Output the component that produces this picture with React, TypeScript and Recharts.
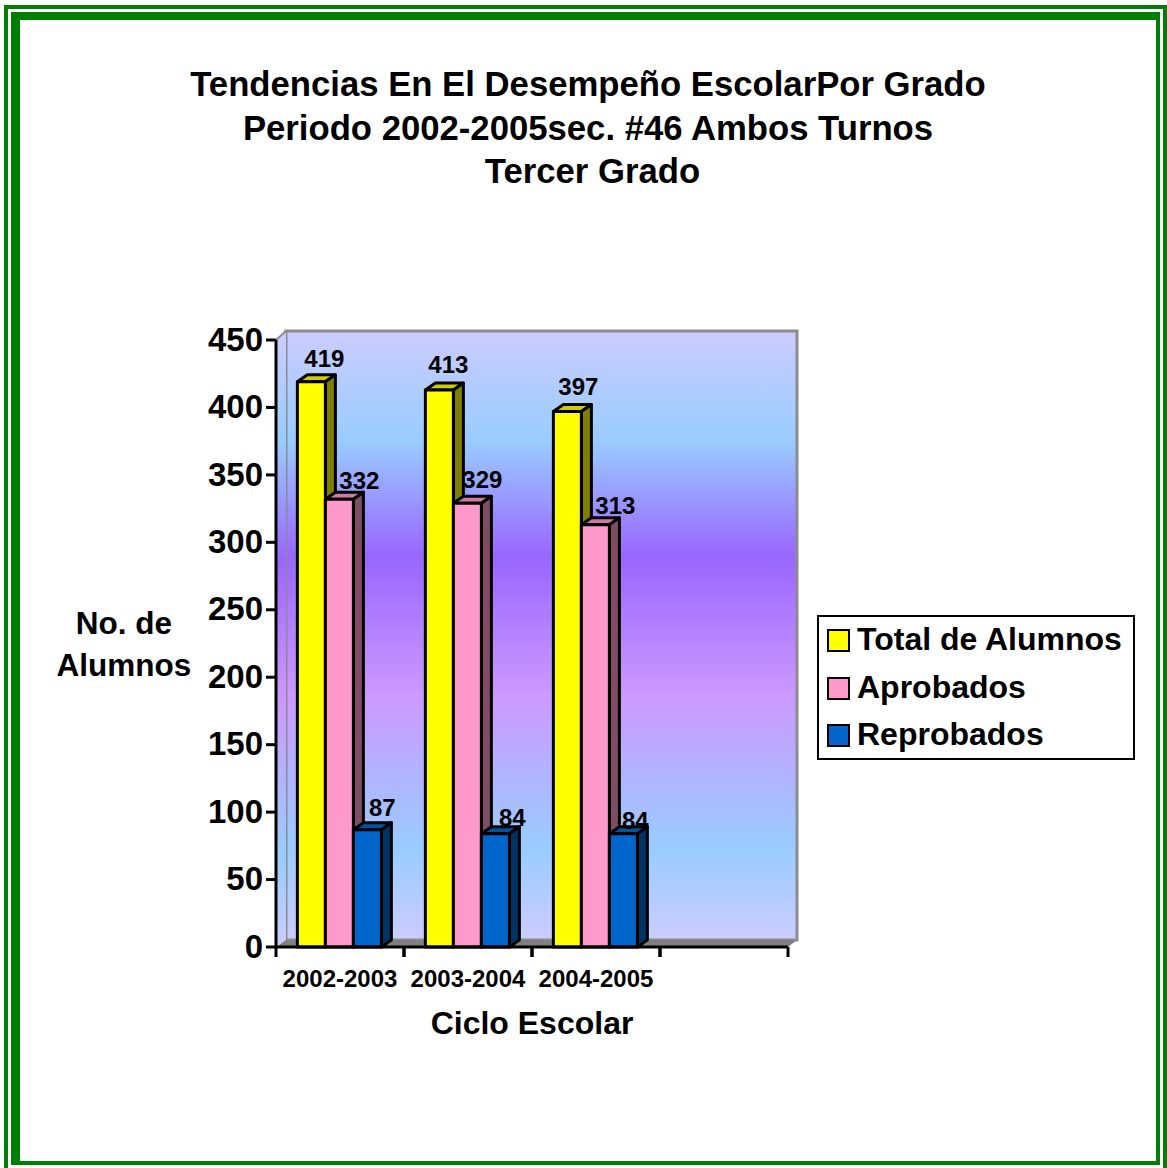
import { BarChart, Bar, XAxis, YAxis, Legend, LabelList, ReferenceArea } from "recharts";

const categories = ["2002-2003", "2003-2004", "2004-2005", ""];
const totalAlumnos = [419, 413, 397, null];
const aprobados = [332, 329, 313, null];
const reprobados = [87, 84, 84, null];
const yTicks = [0, 50, 100, 150, 200, 250, 300, 350, 400, 450];
const titleLines = ["Tendencias En El Desempeño EscolarPor Grado", "Periodo 2002-2005sec. #46 Ambos Turnos", "Tercer Grado"];

const data = categories.map((name, i) => ({
  name,
  total: totalAlumnos[i],
  aprobados: aprobados[i],
  reprobados: reprobados[i],
}));

const FONT = "'Liberation Sans', Arial, sans-serif";
const DEPTH_X = 10;
const DEPTH_Y = 7;

// label offsets from the middle of each bar's top edge, the source places them unevenly
const nudgeTotal = [[13, -15], [9, -17], [11, -16]];
const nudgeAprobados = [[20, -10], [15, -15], [20, -11]];
const nudgeReprobados = [[15, -14], [17, -8], [12, -5]];

function Bar3D(props: any, top: string, side: string) {
  const { x, y, width, height, fill } = props;
  if (!height) return <g />;
  const r = x + width;
  const b = y + height;
  return (
    <g stroke="#000" strokeWidth={3} strokeLinejoin="round">
      <path fill={top} d={`M${x},${y} L${x + DEPTH_X},${y - DEPTH_Y} L${r + DEPTH_X},${y - DEPTH_Y} L${r},${y} Z`} />
      <path fill={side} d={`M${r},${y} L${r + DEPTH_X},${y - DEPTH_Y} L${r + DEPTH_X},${b - DEPTH_Y} L${r},${b} Z`} />
      <rect x={x} y={y} width={width} height={height} fill={fill} />
    </g>
  );
}

function Walls({ x, y, width, height }: any) {
  const r = x + width;
  const b = y + height;
  const wallTop = y - 9;
  return (
    <g>
      <defs>
        <linearGradient id="wall" x1="0" y1="0" x2="0" y2="1">
          <stop offset="0" stopColor="#ccccff" />
          <stop offset="0.18" stopColor="#99ccff" />
          <stop offset="0.37" stopColor="#9966ff" />
          <stop offset="0.6" stopColor="#cc99ff" />
          <stop offset="0.85" stopColor="#99ccff" />
          <stop offset="1" stopColor="#ccccff" />
        </linearGradient>
      </defs>
      <path
        fill="url(#wall)"
        stroke="#8c8c8c"
        strokeWidth={3}
        d={`M${x + DEPTH_X},${wallTop} H${r + 9} V${b - DEPTH_Y} H${x + DEPTH_X} Z`}
      />
      <path fill="url(#wall)" d={`M${x},${y} L${x + DEPTH_X},${wallTop} V${b - DEPTH_Y} L${x},${b} Z`} />
      <path fill="none" stroke="#8c8c8c" strokeWidth={2} d={`M${x},${y} L${x + DEPTH_X},${wallTop}`} />
      <path fill="#808080" d={`M${x},${b} L${x + DEPTH_X},${b - DEPTH_Y} H${r + 9} L${r},${b} Z`} />
    </g>
  );
}

function XTick({ x, y, payload }: any) {
  const half = 64;
  return (
    <g>
      <line x1={x - half} x2={x - half} y1={y - 8} y2={y + 2} stroke="#000" strokeWidth={3} />
      <line x1={x + half} x2={x + half} y1={y - 8} y2={y + 2} stroke="#000" strokeWidth={3} />
      <text x={x} y={y + 32} textAnchor="middle" fontFamily={FONT} fontWeight="bold" fontSize={24} fill="#000">
        {payload.value}
      </text>
    </g>
  );
}

function valueLabel(nudges: number[][]) {
  return ({ x, y, width, value, index }: any) => {
    if (value == null || !nudges[index]) return null;
    return (
      <text
        x={x + width / 2 + nudges[index][0]}
        y={y + nudges[index][1]}
        textAnchor="middle"
        fontFamily={FONT}
        fontWeight="bold"
        fontSize={24}
        fill="#000"
      >
        {value}
      </text>
    );
  };
}

function LegendBox({ payload }: any) {
  return (
    <div style={{ boxSizing: "border-box", width: 318, height: 145, border: "2.5px solid #000", background: "#fff" }}>
      {(payload || []).map((item: any) => (
        <div key={item.value} style={{ display: "flex", alignItems: "center", height: 47.5, paddingLeft: 8 }}>
          <span style={{ boxSizing: "border-box", width: 23, height: 23, border: "2.5px solid #000", background: item.color, marginRight: 7 }} />
          <span style={{ fontFamily: FONT, fontWeight: "bold", fontSize: 32, color: "#000", whiteSpace: "nowrap", position: "relative", top: -1 }}>{item.value}</span>
        </div>
      ))}
    </div>
  );
}

const textBox = { position: "absolute", fontFamily: FONT, fontWeight: "bold", color: "#000", textAlign: "center" } as const;

export default function App() {
  return (
    <div style={{ position: "absolute", left: 0, top: 0, width: 1167, height: 1168, overflow: "hidden", background: "#fff" }}>
      <div style={{ position: "absolute", left: 4, top: 5, width: 1163, height: 1170, border: "4px solid #008000", boxSizing: "border-box" }} />
      <div style={{ position: "absolute", left: 11, top: 12, width: 1149, height: 1153, boxSizing: "border-box", borderStyle: "solid", borderColor: "#008000", borderWidth: "8px 4px 4px 9px" }} />

      <BarChart
        width={1167}
        height={1168}
        data={data}
        barCategoryGap="16.7%"
        barGap={0}
        margin={{ top: 340, right: 379, bottom: 161, left: 176 }}
        style={{ position: "absolute", left: 0, top: 0 }}
      >
        <ReferenceArea y1={0} y2={450} shape={Walls} ifOverflow="visible" />
        <XAxis
          dataKey="name"
          height={60}
          interval={0}
          tickLine={false}
          axisLine={{ stroke: "#000", strokeWidth: 3 }}
          tick={XTick}
          label={{ value: "Ciclo Escolar", position: "insideBottom", offset: -27, fontFamily: FONT, fontWeight: "bold", fontSize: 32, fill: "#000" }}
        />
        <YAxis
          width={100}
          domain={[0, 450]}
          ticks={yTicks}
          tickSize={10}
          tickMargin={3}
          axisLine={{ stroke: "#000", strokeWidth: 3 }}
          tickLine={{ stroke: "#000", strokeWidth: 3 }}
          tick={{ fontFamily: FONT, fontWeight: "bold", fontSize: 33, fill: "#000", dy: -1 }}
        />
        <Legend
          layout="vertical"
          align="center"
          verticalAlign="middle"
          itemSorter={null}
          content={LegendBox}
          wrapperStyle={{ left: 817, top: 615, width: 318, height: 145 }}
        />
        <Bar dataKey="total" name="Total de Alumnos" fill="#ffff00" isAnimationActive={false} shape={(p: any) => Bar3D(p, "#cccc00", "#808000")}>
          <LabelList dataKey="total" content={valueLabel(nudgeTotal)} />
        </Bar>
        <Bar dataKey="aprobados" name="Aprobados" fill="#ff99cc" isAnimationActive={false} shape={(p: any) => Bar3D(p, "#cc7aa3", "#804d66")}>
          <LabelList dataKey="aprobados" content={valueLabel(nudgeAprobados)} />
        </Bar>
        <Bar dataKey="reprobados" name="Reprobados" fill="#0066cc" isAnimationActive={false} shape={(p: any) => Bar3D(p, "#0052a3", "#003366")}>
          <LabelList dataKey="reprobados" content={valueLabel(nudgeReprobados)} />
        </Bar>
      </BarChart>

      <div style={{ ...textBox, left: 88, top: 63, width: 1000, fontSize: 34.7, lineHeight: "43.5px" }}>
        {titleLines.map((line, i) => (
          <div key={line} style={i === 2 ? { paddingLeft: 9 } : undefined}>{line}</div>
        ))}
      </div>
      <div style={{ ...textBox, left: 24, top: 602, width: 200, fontSize: 31.5, lineHeight: "42px" }}>
        <div>No. de</div>
        <div>Alumnos</div>
      </div>
    </div>
  );
}
